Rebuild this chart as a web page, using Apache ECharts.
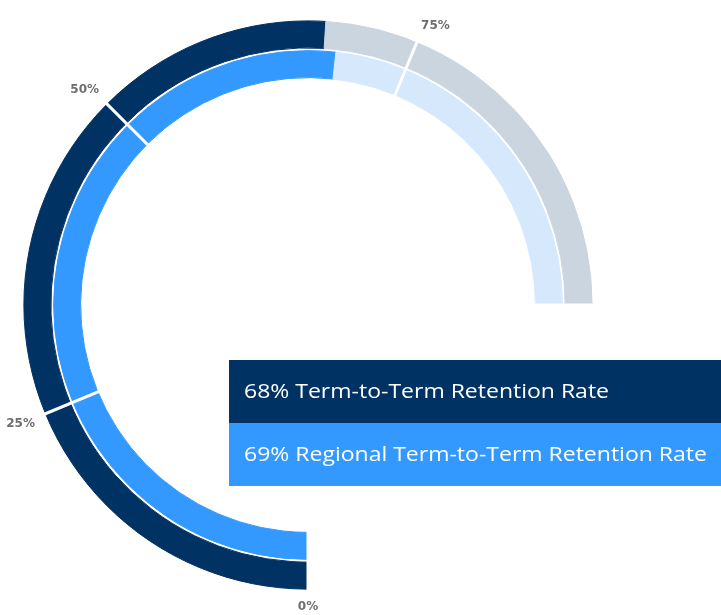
<!DOCTYPE html>
<html>
<head>
<meta charset="utf-8">
<script src="https://cdn.jsdelivr.net/npm/echarts@6/dist/echarts.min.js"></script>
<style>
  html, body { margin: 0; padding: 0; background: #fff; }
  #chart { width: 721px; height: 615px; }
</style>
</head>
<body>
<div id="chart"></div>
<script>
  // rings, inner first (radius category axis goes outward)
  const categories = ['Regional', 'College']
  const rates = [69, 68]
  const labels = ['Regional Term-to-Term Retention Rate', 'Term-to-Term Retention Rate']
  const tickValues = [0, 25, 50, 75]

  const fillColors = ['#3399ff', '#003263']
  const trackColors = ['#d5e8fc', '#cad5df']

  const chart = echarts.init(document.getElementById('chart'))

  // legend boxes, college first like the original
  const legendOrder = [1, 0]
  const graphic = []
  legendOrder.forEach(function (idx, row) {
    graphic.push({
      type: 'rect',
      left: 229, top: 360 + row * 63,
      shape: { width: 492, height: 63 },
      style: { fill: fillColors[idx] },
      z: 20
    })
    graphic.push({
      type: 'text',
      x: 244, y: 360 + row * 63 + 32,
      scaleX: 1.15,
      style: {
        text: rates[idx] + '% ' + labels[idx],
        fill: '#fff',
        font: '20px "Open Sans"',
        verticalAlign: 'middle'
      },
      z: 21
    })
  })

  function ring (colors, values) {
    return {
      type: 'bar',
      coordinateSystem: 'polar',
      stack: 'ring',
      barWidth: 27,
      data: values.map(function (v, i) {
        return {
          value: v,
          itemStyle: { color: colors[i], borderColor: colors[i], borderWidth: 1 }
        }
      })
    }
  }

  chart.setOption({
    animation: false,
    polar: {
      center: [308, 305],
      radius: [226, 285.5]
    },
    angleAxis: {
      type: 'value',
      min: 0,
      max: 100,
      interval: 25,
      startAngle: 270,
      endAngle: 0,
      clockwise: true,
      z: 10,
      axisLine: { show: false },
      axisTick: { show: false },
      splitLine: { show: true, lineStyle: { color: '#fff', width: 3 } },
      axisLabel: {
        margin: 10,
        color: '#6e6e6e',
        fontWeight: 'bold',
        fontSize: 12,
        fontFamily: 'DejaVu Sans',
        formatter: function (v) {
          return tickValues.indexOf(v) >= 0 ? v + '%' : ''
        }
      }
    },
    radiusAxis: {
      type: 'category',
      data: categories,
      axisLine: { show: false },
      axisTick: { show: false },
      axisLabel: { show: false },
      splitLine: { show: false }
    },
    series: [
      ring(fillColors, rates),
      ring(trackColors, rates.map(function (v) { return 100 - v }))
    ],
    graphic: graphic
  })
</script>
</body>
</html>
